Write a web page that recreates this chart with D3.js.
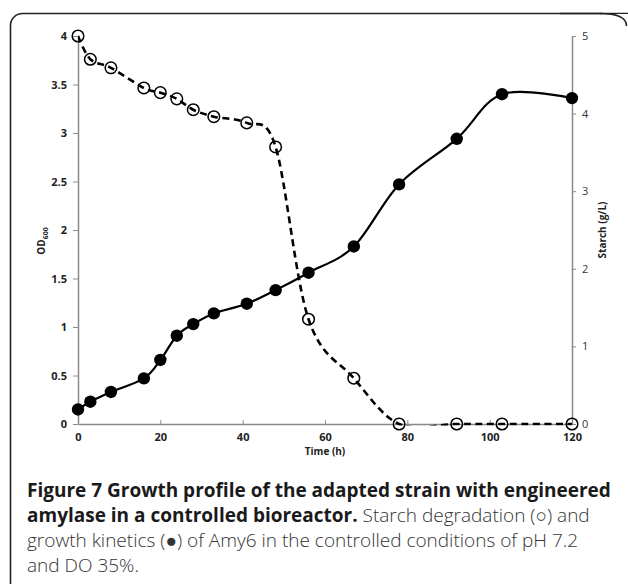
<!DOCTYPE html>
<html>
<head>
<meta charset="utf-8">
<script src="https://cdn.jsdelivr.net/npm/d3@7"></script>
<style>
  body { margin: 0; background: #fff; }
  svg { display: block; }
</style>
</head>
<body>
<div id="chart"></div>
<script>
// time points (h)
const hours = [0, 3, 8, 16, 20, 24, 28, 33, 41, 48, 56, 67, 78, 92, 103, 120]
// growth, OD600 (filled circles)
const od600 = [0.15, 0.23, 0.33, 0.47, 0.66, 0.91, 1.03, 1.14, 1.24, 1.38, 1.56, 1.83, 2.47, 2.94, 3.40, 3.36]
// starch g/L (open circles)
const starch = [5.0, 4.70, 4.59, 4.33, 4.27, 4.19, 4.05, 3.96, 3.88, 3.57, 1.35, 0.59, 0, 0, 0, 0]

const xTicks = [0, 20, 40, 60, 80, 100, 120]
const odTicks = [0, 0.5, 1, 1.5, 2, 2.5, 3, 3.5, 4]
const starchTicks = [0, 1, 2, 3, 4, 5]

const captionLines = [
  [{t: "Figure 7 Growth profile of the adapted strain with engineered", b: true}],
  [{t: "amylase in a controlled bioreactor.", b: true}, {t: " Starch degradation (\u25CB) and", b: false}],
  [{t: "growth kinetics (\u25CF) of Amy6 in the controlled conditions of pH 7.2", b: false}],
  [{t: "and DO 35%.", b: false}]
]

const W = 628, H = 584
const svg = d3.select("#chart").append("svg")
  .attr("width", W).attr("height", H)

// frame round the figure
svg.append("rect")
  .attr("x", 10.5).attr("y", 13.5)
  .attr("width", 640).attr("height", 620)
  .attr("rx", 12).attr("ry", 12)
  .attr("fill", "none").attr("stroke", "#222").attr("stroke-width", 1.6)
svg.append("rect")
  .attr("x", 616).attr("y", 14).attr("width", 20).attr("height", 600)
  .attr("fill", "#fff")
svg.append("path")
  .attr("d", "M600,13.5 Q626.5,13.5 626.5,26")
  .attr("fill", "none").attr("stroke", "#222").attr("stroke-width", 1.6)
svg.append("line")
  .attr("x1", 560).attr("x2", 601).attr("y1", 13.5).attr("y2", 13.5)
  .attr("stroke", "#222").attr("stroke-width", 1.6)

const mLeft = 78, mRight = 572, mTop = 36, mBottom = 424

const x = d3.scaleLinear().domain([0, 120]).range([mLeft, mRight])
const yOD = d3.scaleLinear().domain([0, 4]).range([mBottom, mTop])
const yS = d3.scaleLinear().domain([0, 5]).range([mBottom, mTop])

const axisColor = "#8a8a8a"
const tickFont = "'Open Sans', sans-serif"

// x axis
const gx = svg.append("g")
  .attr("transform", "translate(0," + mBottom + ")")
  .call(d3.axisBottom(x).tickValues(xTicks).tickSizeInner(-4).tickSizeOuter(0).tickPadding(9))
gx.select(".domain").attr("stroke", axisColor).attr("stroke-width", 1.5)
gx.selectAll(".tick line").attr("stroke", axisColor)
gx.selectAll("text").attr("font-family", tickFont).attr("font-weight", "bold")
  .attr("font-size", 11).attr("fill", "#222")

// left axis
const gl = svg.append("g")
  .attr("transform", "translate(" + mLeft + ",0)")
  .call(d3.axisLeft(yOD).tickValues(odTicks).tickFormat(d3.format("")).tickSizeInner(5).tickSizeOuter(0).tickPadding(6))
gl.select(".domain").attr("stroke", axisColor).attr("stroke-width", 1.5)
gl.selectAll(".tick line").attr("stroke", axisColor)
gl.selectAll("text").attr("font-family", tickFont).attr("font-weight", "bold")
  .attr("font-size", 11).attr("fill", "#222")

// right axis
const gr = svg.append("g")
  .attr("transform", "translate(" + mRight + ",0)")
  .call(d3.axisRight(yS).tickValues(starchTicks).tickFormat(d3.format("")).tickSizeInner(4).tickSizeOuter(0).tickPadding(6))
gr.select(".domain").attr("stroke", axisColor).attr("stroke-width", 1.5)
gr.selectAll(".tick line").attr("stroke", axisColor)
gr.selectAll("text").attr("font-family", tickFont)
  .attr("font-size", 11).attr("fill", "#333")

// axis titles
svg.append("text")
  .attr("x", (mLeft + mRight) / 2).attr("y", 455)
  .attr("text-anchor", "middle")
  .attr("font-family", tickFont).attr("font-weight", "bold").attr("font-size", 10).attr("fill", "#222")
  .text("Time (h)")

const odLab = svg.append("text")
  .attr("transform", "translate(45,241) rotate(-90)")
  .attr("text-anchor", "middle")
  .attr("font-family", tickFont).attr("font-weight", "bold").attr("font-size", 10).attr("fill", "#222")
odLab.append("tspan").text("OD")
odLab.append("tspan").attr("dy", 3).attr("font-size", 7).text("600")

svg.append("text")
  .attr("transform", "translate(606,230) rotate(-90)")
  .attr("text-anchor", "middle")
  .attr("font-family", tickFont).attr("font-weight", "bold").attr("font-size", 10).attr("fill", "#222")
  .text("Starch (g/L)")

// clip for the smoothed lines
svg.append("clipPath").attr("id", "plotclip")
  .append("rect").attr("x", mLeft).attr("y", mTop - 4)
  .attr("width", mRight - mLeft + 4).attr("height", mBottom - mTop + 5.5)

const curve = d3.curveCatmullRom.alpha(0)

const starchLine = d3.line()
  .x((d, i) => x(hours[i]))
  .y(d => yS(d))
  .curve(curve)
const odLine = d3.line()
  .x((d, i) => x(hours[i]))
  .y(d => yOD(d))
  .curve(curve)

svg.append("path")
  .datum(starch)
  .attr("clip-path", "url(#plotclip)")
  .attr("d", starchLine)
  .attr("fill", "none").attr("stroke", "#000")
  .attr("stroke-width", 2.6).attr("stroke-dasharray", "7,4.5")

svg.append("path")
  .datum(od600)
  .attr("clip-path", "url(#plotclip)")
  .attr("d", odLine)
  .attr("fill", "none").attr("stroke", "#000").attr("stroke-width", 2.2)

svg.append("g").selectAll("circle")
  .data(starch)
  .join("circle")
  .attr("cx", (d, i) => x(hours[i]))
  .attr("cy", d => yS(d))
  .attr("r", 5.8)
  .attr("fill", "none").attr("stroke", "#000").attr("stroke-width", 1.5)

svg.append("g").selectAll("circle")
  .data(od600)
  .join("circle")
  .attr("cx", (d, i) => x(hours[i]))
  .attr("cy", d => yOD(d))
  .attr("r", 6.2)
  .attr("fill", "#000")

// caption, sized so the first line spans the frame like the original
const capFont = "'Open Sans', sans-serif"
const cap = svg.append("g").attr("font-family", capFont).attr("font-size", 18)
const capTexts = []
captionLines.forEach((line, li) => {
  const t = cap.append("text").attr("x", 27).attr("y", 496.5 + li * 25)
  line.forEach(seg => {
    t.append("tspan")
      .attr("font-weight", seg.b ? "bold" : 300)
      .attr("fill", seg.b ? "#1a1a1a" : "#333")
      .attr("xml:space", "preserve")
      .text(seg.t)
  })
  capTexts.push(t)
})
const w0 = capTexts[0].node().getComputedTextLength()
if (w0 > 0) cap.attr("font-size", 18 * 584 / w0)
</script>
</body>
</html>
